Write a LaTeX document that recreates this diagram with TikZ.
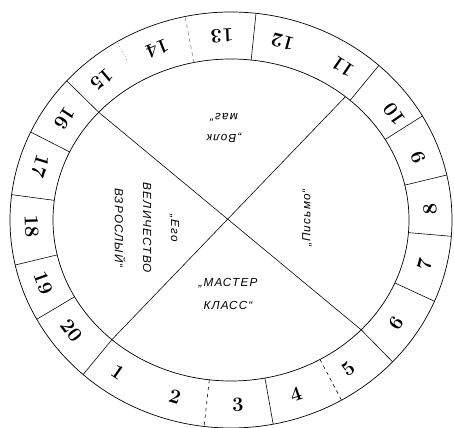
\documentclass[tikz,border=0pt]{standalone}
\usepackage{fontspec}
\newfontfamily\hand[LetterSpace=10]{Liberation Sans}

\begin{document}
\begin{tikzpicture}[x=0.03cm,y=0.03cm,
  rim/.style={line width=0.6pt},
  divider/.style={line width=0.5pt},
  num/.style={font=\LARGE\bfseries, inner sep=0pt},
  title/.style={font=\hand\itshape\fontsize{10}{12}\selectfont, align=center, inner sep=1pt}]
\useasboundingbox (0,0) rectangle (454,428);

% outer and inner rim of the disc
\coordinate (c) at (231,208);
\draw[rim] (c) ellipse [x radius=221, y radius=208];
\draw[rim] (c) ellipse [x radius=178, y radius=161];

% the cross
\coordinate (a1) at ({231+178*cos(138)},{208+161*sin(138)});
\coordinate (a2) at ({231+178*cos(317)},{208+161*sin(317)});
\coordinate (b1) at ({231+178*cos(50)},{208+161*sin(50)});
\coordinate (b2) at ({231+178*cos(228)},{208+161*sin(228)});
\draw[divider] (a1) -- (a2);
\draw[divider] (b1) -- (b2);

% ring dividers
\foreach \t in {228,281,317,337,355.5,12.5,30,48,83.5,138,155,173,192.5,208.5}
  \draw[divider] ({231+178*cos(\t)},{208+161*sin(\t)}) -- ({231+221*cos(\t)},{208+208*sin(\t)});
\foreach \t in {263,300}
  \draw[divider, dashed] ({231+178*cos(\t)},{208+161*sin(\t)}) -- ({231+221*cos(\t)},{208+208*sin(\t)});
\draw[divider, gray, dashed] ({231+178*cos(102)},{208+161*sin(102)}) -- ({231+221*cos(102)},{208+208*sin(102)});
\draw[divider, gray, dotted] ({231+200*cos(121)},{208+184*sin(121)}) -- ({231+221*cos(121)},{208+208*sin(121)});

% numbers round the ring
\foreach \n/\t in {1/235.4, 2/253.7, 3/272, 4/289, 5/306, 6/326, 7/346, 8/3.5, 9/20, 10/35,
                   11/56, 12/75, 13/92.6, 14/111.7, 15/130.4, 16/146.6, 17/163, 18/182, 19/200, 20/217}
  \node[num, rotate=\t+90] (n\n) at ({231+199.5*cos(\t)},{208+184.5*sin(\t)}) {\n};

% titles in the four fields
\node[title, rotate=180] (volk) at (224,300) {„Волк\\[6pt]маг“};
\node[title, rotate=-90] (ego) at (147,200) {„Его\\[12pt]ВЕЛИЧЕСТВО\\[12pt]ВЗРОСЛЫЙ“};
\node[title, rotate=90] (pismo) at (307,210) {„Письмо“};
\node[title] (master) at (228,134) {„МАСТЕР\\[8pt]КЛАСС“};
\end{tikzpicture}
\end{document}
